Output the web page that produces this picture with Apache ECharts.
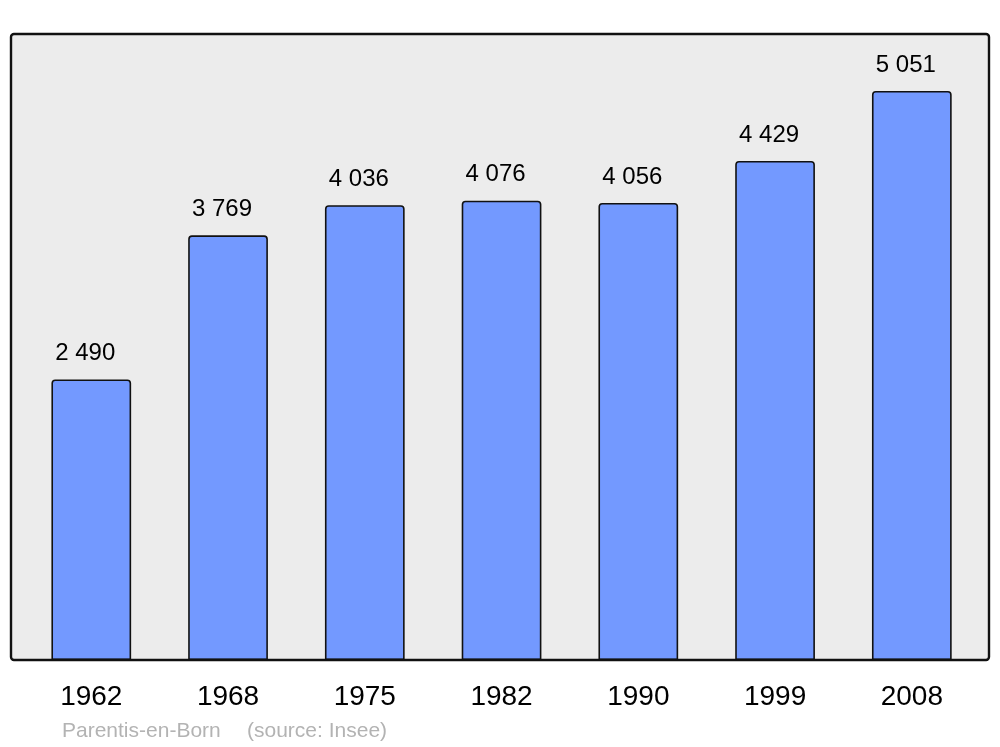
<!DOCTYPE html>
<html>
<head>
<meta charset="utf-8">
<script src="https://cdn.jsdelivr.net/npm/echarts@6/dist/echarts.min.js"></script>
<style>
html,body{margin:0;padding:0;background:#fff;}
#chart{width:1000px;height:747px;}
</style>
</head>
<body>
<div id="chart"></div>
<script>
const years = ['1962', '1968', '1975', '1982', '1990', '1999', '2008'];
const population = [2490, 3769, 4036, 4076, 4056, 4429, 5051];
const captionTown = 'Parentis-en-Born';
const captionSource = '(source: Insee)';

function fmt(v) {
  return String(v).replace(/\B(?=(\d{3})+(?!\d))/g, ' ');
}

const chart = echarts.init(document.getElementById('chart'), null, {renderer: 'canvas'});
chart.setOption({
  animation: false,
  backgroundColor: '#ffffff',
  textStyle: {fontFamily: '"Liberation Sans", Arial, sans-serif'},
  graphic: [
    {
      type: 'rect', z: -10, silent: true,
      shape: {x: 11, y: 34, width: 978, height: 626, r: 3},
      style: {fill: '#ececec', stroke: 'none'}
    },
    {
      type: 'rect', z: 100, silent: true,
      shape: {x: 11, y: 34, width: 978, height: 626, r: 3},
      style: {fill: 'none', stroke: '#111111', lineWidth: 2.4}
    }
  ],
  title: [
    {text: captionTown, left: 62, top: 721, padding: 0,
     textStyle: {color: '#b3b3b3', fontSize: 21, fontWeight: 'normal', fontFamily: '"Liberation Sans", Arial, sans-serif'}},
    {text: captionSource, left: 247, top: 721, padding: 0,
     textStyle: {color: '#b3b3b3', fontSize: 21, fontWeight: 'normal', fontFamily: '"Liberation Sans", Arial, sans-serif'}}
  ],
  grid: {left: 22.9, right: 19.8, top: 34, bottom: 87, containLabel: false},
  xAxis: {
    type: 'category',
    data: years,
    axisLine: {show: false},
    axisTick: {show: false},
    axisLabel: {color: '#000', fontSize: 28, margin: 23, fontFamily: '"Liberation Sans", Arial, sans-serif'}
  },
  yAxis: {
    type: 'value', min: 0, max: 5556,
    show: false, splitLine: {show: false}
  },
  series: [{
    type: 'bar',
    data: population,
    barWidth: '58.3%',
    itemStyle: {color: '#7399ff', borderColor: '#111111', borderWidth: 1.6, borderRadius: [3, 3, 0, 0]},
    label: {
      show: true, position: 'top', distance: 14, offset: [-6, 0],
      color: '#000', fontSize: 24,
      fontFamily: '"Liberation Sans", Arial, sans-serif',
      formatter: p => fmt(p.value)
    }
  }]
});
</script>
</body>
</html>
